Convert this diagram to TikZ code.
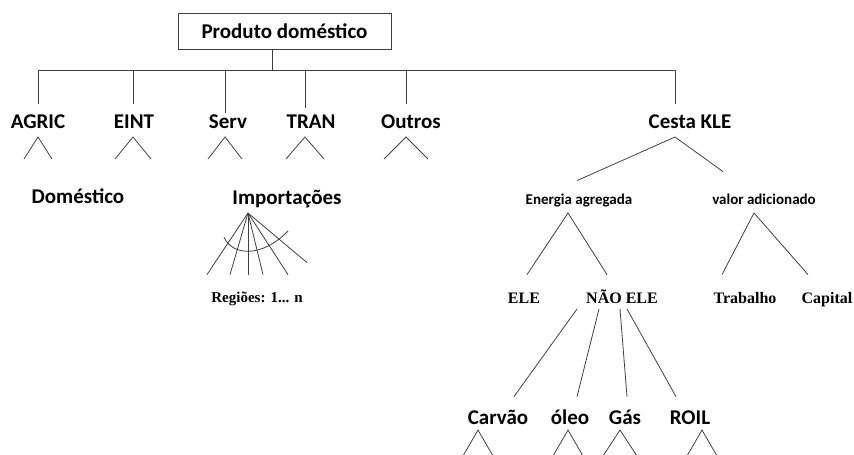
\documentclass[tikz,border=0pt]{standalone}
\usepackage{fontspec}
\setmainfont{Carlito}
\newfontfamily\serifb{Liberation Serif}
\usetikzlibrary{positioning}

\begin{document}
\begin{tikzpicture}[x=1pt,y=1pt,line width=0.8pt,draw=black!75,
    lbl/.style={anchor=base,inner sep=0pt,font=\fontsize{21}{24}\selectfont\bfseries,
      text height=14pt,text depth=5pt},
    sml/.style={lbl,font=\fontsize{15}{18}\selectfont\bfseries,text height=10pt,text depth=3pt},
    tnr/.style={lbl,font=\serifb\fontsize{16}{18}\selectfont\bfseries,text height=11pt,text depth=3pt},
    tnrs/.style={tnr,font=\serifb\fontsize{15}{18}\selectfont\bfseries,text height=10pt},
    topbox/.style={draw,inner sep=0pt,minimum width=213pt,minimum height=36pt,
      font=\fontsize{21}{24}\selectfont\bfseries}]
    \useasboundingbox (0,0) rectangle (854,-455);
    \clip (0,0) rectangle (854,-455);
    % top of the tree
    \node[topbox] (prod) at (284.5,-31) {Produto doméstico};
    \coordinate (bus) at (272,-70);
    \node[lbl] (agric) at (38,-128) {AGRIC};
    \node[lbl] (eint) at (134,-128) {EINT};
    \node[lbl] (serv) at (228,-128) {Serv};
    \node[lbl] (tran) at (311,-128) {TRAN};
    \node[lbl] (outros) at (411,-128) {Outros};
    \node[lbl] (kle) at (690,-128) {Cesta KLE};
    \node[lbl] (domestico) at (78,-203) {Doméstico};
    \node[lbl] (import) at (287,-204) {Importações};
    \node[tnrs] (regioes) at (257,-302) {Regiões: 1... n};
    % KLE nest
    \node[sml] (energia) at (579,-204) {Energia agregada};
    \node[sml] (valor) at (764,-204) {valor adicionado};
    \node[tnr] (ele) at (524,-303) {ELE};
    \node[tnr] (naoele) at (622,-303) {NÃO ELE};
    \node[tnr] (trab) at (745,-303) {Trabalho};
    \node[tnr] (capital) at (827,-303) {Capital};
    \node[lbl] (carvao) at (498,-424) {Carvão};
    \node[lbl] (oleo) at (570,-424) {óleo};
    \node[lbl] (gas) at (625,-424) {Gás};
    \node[lbl] (roil) at (690,-424) {ROIL};

    \draw (prod.south -| bus) -- (bus);
    \coordinate (kle-x) at ([xshift=-15pt]kle.north);
    \draw (agric.north |- bus) -- (kle-x |- bus);
    \draw (kle-x |- bus) -- ([yshift=10pt]kle-x);
    \foreach \n/\dx/\top/\w in {agric/0/10/14, eint/-1/10/18, serv/-3/1/17,
        tran/-6/6/19, outros/-5/10/22} {
      \coordinate (\n-x) at ([xshift=\dx pt]\n.north);
      \draw (\n-x |- bus) -- ([yshift=\top pt]\n-x);
      \coordinate (\n-tip) at ([xshift=\dx pt,yshift=-9pt]\n.base);
      \draw ([shift={(-\w,-22)}]\n-tip) -- (\n-tip) -- ([shift={(\w,-22)}]\n-tip);
    }

    % imports by region
    \coordinate (imp-tip) at ([shift={(-39,-9)}]import.base);
    \foreach \dx/\dy in {-50/17, -27/17, -9/17, 6/17, 31/17, 50/29}
      \draw (imp-tip) -- ([shift={(\dx,\dy)}]regioes.north);
    \draw ([shift={(-24,-24)}]imp-tip) .. controls +(8,-19) and +(-26,-27) .. ([shift={(40,-18)}]imp-tip);

    % energy and value added
    \coordinate (kle-tip) at ([xshift=-15pt,yshift=-9pt]kle.base);
    \draw ([shift={(-2,13)}]energia.north) -- (kle-tip) -- ([shift={(-41,22)}]valor.north);
    \coordinate (en-tip) at ([shift={(-11,-9)}]energia.base);
    \draw ([shift={(3,17)}]ele.north) -- (en-tip) -- ([shift={(-15,17)}]naoele.north);
    \coordinate (va-tip) at ([shift={(-10,-9)}]valor.base);
    \draw ([shift={(-23,17)}]trab.north) -- (va-tip) -- ([shift={(-19,17)}]capital.north);
    \foreach \n/\a/\b in {carvao/-45/16, oleo/-23/7, gas/-2/2, roil/5/-14}
      \draw ([shift={(\a,-6)}]naoele.base) -- ([shift={(\b,13)}]\n.north);
    \foreach \n/\dx/\w in {carvao/-20/15, oleo/-2/15, gas/-5/17, roil/12/15} {
      \coordinate (\n-tip) at ([shift={(\dx,-6)}]\n.base);
      \draw ([shift={(-\w,-26)}]\n-tip) -- (\n-tip) -- ([shift={(\w,-26)}]\n-tip);
    }
  \end{tikzpicture}
\end{document}
